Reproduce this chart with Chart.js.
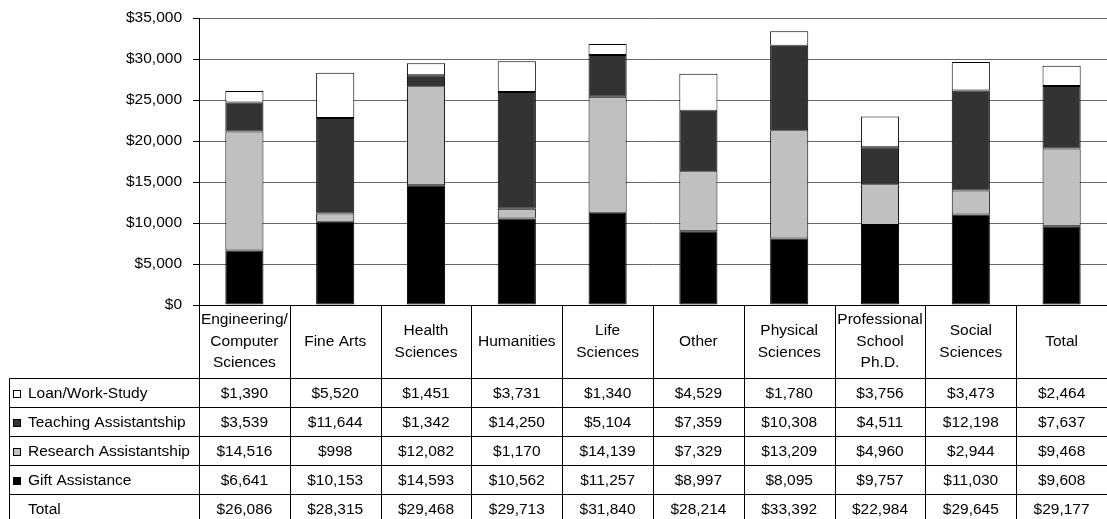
<!DOCTYPE html>
<html>
<head>
<meta charset="utf-8">
<script src="https://cdn.jsdelivr.net/npm/chart.js@4.4.0/dist/chart.umd.min.js"></script>
<style>
  html, body { margin: 0; padding: 0; background: #fff; }
  #wrap { width: 1107px; height: 519px; position: relative; }
</style>
</head>
<body>
<div id="wrap"><canvas id="chart"></canvas></div>
<script>
// categories, header lines for the table
const categories = [
  ['Engineering/', 'Computer', 'Sciences'],
  ['Fine Arts'],
  ['Health', 'Sciences'],
  ['Humanities'],
  ['Life', 'Sciences'],
  ['Other'],
  ['Physical', 'Sciences'],
  ['Professional', 'School', 'Ph.D.'],
  ['Social', 'Sciences'],
  ['Total']
];

// series values (dollars)
const loanWorkStudy = [1390, 5520, 1451, 3731, 1340, 4529, 1780, 3756, 3473, 2464];
const teachingAsst  = [3539, 11644, 1342, 14250, 5104, 7359, 10308, 4511, 12198, 7637];
const researchAsst  = [14516, 998, 12082, 1170, 14139, 7329, 13209, 4960, 2944, 9468];
const giftAssist    = [6641, 10153, 14593, 10562, 11257, 8997, 8095, 9757, 11030, 9608];
const totals        = [26086, 28315, 29468, 29713, 31840, 28214, 33392, 22984, 29645, 29177];

const yTicks = [0, 5000, 10000, 15000, 20000, 25000, 30000, 35000];

const FONT = '"Liberation Sans", Arial, sans-serif';
const FSIZE = 15.5;

function money(v) {
  return '$' + v.toLocaleString('en-US');
}

// rows of the data table, top to bottom
const tableRows = [
  { label: 'Loan/Work-Study', color: '#ffffff', values: loanWorkStudy },
  { label: 'Teaching Assistantship', color: '#333333', values: teachingAsst },
  { label: 'Research Assistantship', color: '#c0c0c0', values: researchAsst },
  { label: 'Gift Assistance', color: '#000000', values: giftAssist },
  { label: 'Total', color: null, values: totals }
];

// draws the data table under the plot
const dataTable = {
  id: 'dataTable',
  afterDraw(chart) {
    const ctx = chart.ctx;
    const area = chart.chartArea;
    const xs = chart.scales.x;
    const n = categories.length;
    const colW = (area.right - area.left) / n;
    const top = area.bottom;
    const headerH = 73;
    const rowH = 29;
    const leftX = 9.5;
    const bottom = chart.height;

    ctx.save();
    ctx.strokeStyle = '#000';
    ctx.lineWidth = 1;

    // axis base line + tick at $0
    ctx.beginPath();
    ctx.moveTo(area.left - 6, Math.round(top) + 0.5);
    ctx.lineTo(area.right, Math.round(top) + 0.5);
    ctx.stroke();

    // horizontal row lines
    ctx.beginPath();
    for (let i = 0; i < tableRows.length; i++) {
      const y = Math.round(top + headerH + i * rowH) + 0.5;
      ctx.moveTo(leftX, y);
      ctx.lineTo(area.right, y);
    }
    // left border of label column
    ctx.moveTo(leftX, Math.round(top + headerH) + 0.5);
    ctx.lineTo(leftX, bottom);
    // column separators
    for (let k = 0; k < n; k++) {
      const x = Math.round(area.left + k * colW) + 0.5;
      ctx.moveTo(x, top);
      ctx.lineTo(x, bottom);
    }
    ctx.stroke();

    ctx.fillStyle = '#000';
    ctx.font = FSIZE + 'px ' + FONT;
    ctx.textAlign = 'center';
    ctx.textBaseline = 'middle';

    // header labels
    const lineH = 21.5;
    categories.forEach((lines, i) => {
      const cx = xs.getPixelForValue(i);
      const cy = top + headerH / 2;
      lines.forEach((t, j) => {
        ctx.fillText(t, cx, cy + (j - (lines.length - 1) / 2) * lineH);
      });
    });

    // rows
    tableRows.forEach((row, r) => {
      const cy = top + headerH + r * rowH + rowH / 2 + 1;
      if (row.color) {
        ctx.fillStyle = row.color;
        ctx.fillRect(13, Math.round(cy - 4), 8, 8);
        ctx.strokeRect(13.5, Math.round(cy - 4) + 0.5, 7, 7);
      }
      ctx.fillStyle = '#000';
      ctx.textAlign = 'left';
      ctx.fillText(row.label, 28, cy);
      ctx.textAlign = 'center';
      row.values.forEach((v, i) => {
        ctx.fillText(money(v), xs.getPixelForValue(i), cy);
      });
    });
    ctx.restore();
  }
};

const barCommon = {
  borderColor: '#000',
  borderWidth: 1,
  borderSkipped: false,
  barPercentage: 0.42,
  categoryPercentage: 1.0
};

new Chart(document.getElementById('chart'), {
  type: 'bar',
  data: {
    labels: categories.map(c => c.join(' ')),
    datasets: [
      Object.assign({ label: 'Gift Assistance', data: giftAssist, backgroundColor: '#000000' }, barCommon),
      Object.assign({ label: 'Research Assistantship', data: researchAsst, backgroundColor: '#c0c0c0' }, barCommon),
      Object.assign({ label: 'Teaching Assistantship', data: teachingAsst, backgroundColor: '#333333' }, barCommon),
      Object.assign({ label: 'Loan/Work-Study', data: loanWorkStudy, backgroundColor: '#ffffff' }, barCommon)
    ]
  },
  options: {
    responsive: true,
    maintainAspectRatio: false,
    animation: false,
    layout: { padding: { top: 18, right: 0, bottom: 214, left: 0 } },
    plugins: {
      legend: { display: false },
      tooltip: { enabled: false }
    },
    scales: {
      x: {
        stacked: true,
        display: false
      },
      y: {
        stacked: true,
        min: 0,
        max: 35000,
        afterBuildTicks(scale) {
          scale.ticks = yTicks.map(v => ({ value: v }));
        },
        afterFit(scale) {
          scale.width = 199;
          scale.paddingTop = 0;
          scale.paddingBottom = 0;
        },
        border: { display: true, color: '#000', width: 1 },
        grid: {
          color: '#666',
          lineWidth: 1,
          drawTicks: true,
          tickLength: 6,
          tickColor: '#000'
        },
        ticks: {
          color: '#000',
          padding: 11,
          font: { family: FONT, size: FSIZE },
          callback: v => money(v)
        }
      }
    }
  },
  plugins: [dataTable]
});
</script>
</body>
</html>
